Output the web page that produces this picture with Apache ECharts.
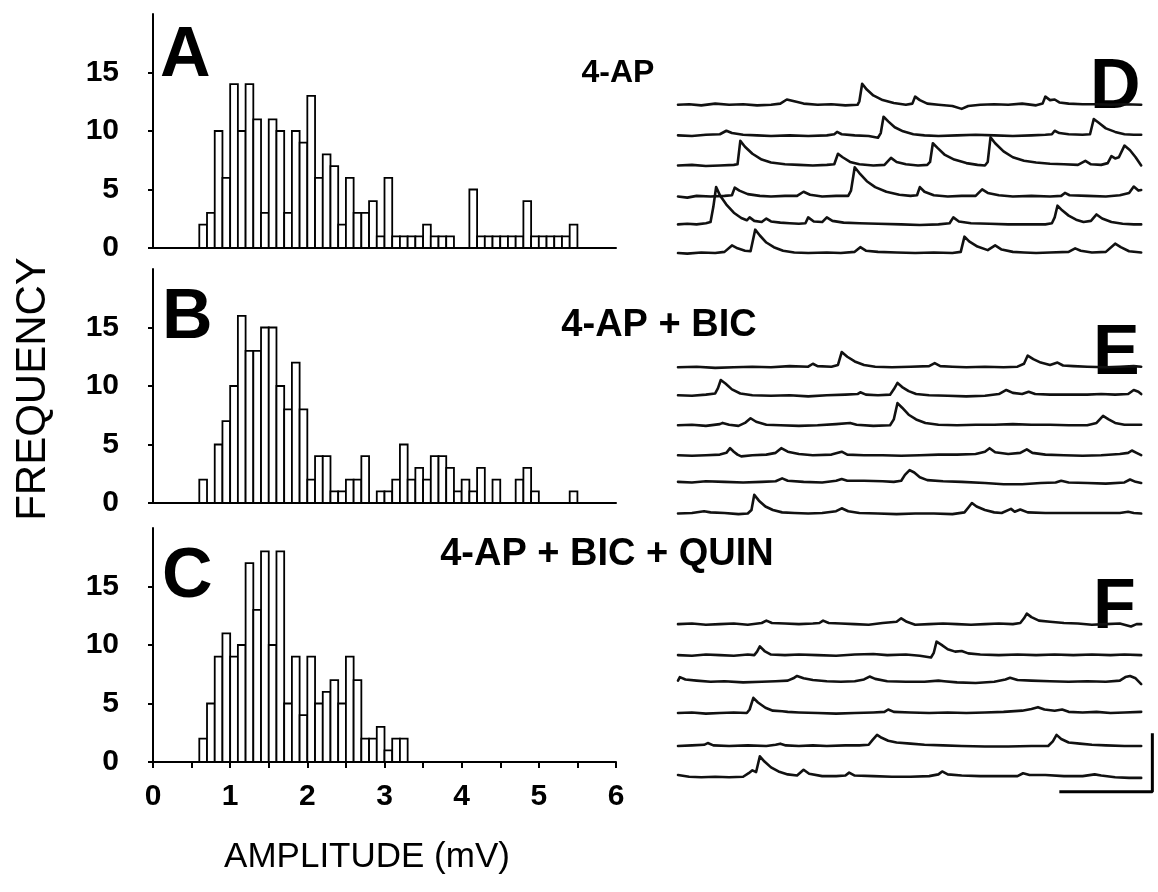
<!DOCTYPE html>
<html><head><meta charset="utf-8">
<script src="https://cdn.jsdelivr.net/npm/echarts@6/dist/echarts.min.js"></script>
<style>html,body{margin:0;padding:0;background:#fff}#c{width:1158px;height:892px}</style>
</head><body><div id="c"></div>
<script>
// ---------- DATA ----------
const amplitudeBins = [0.6,0.7,0.8,0.9,1.0,1.1,1.2,1.3,1.4,1.5,1.6,1.7,1.8,1.9,2.0,2.1,2.2,2.3,2.4,2.5,2.6,2.7,2.8,2.9,3.0,3.1,3.2,3.3,3.4,3.5,3.6,3.7,3.8,3.9,4.0,4.1,4.2,4.3,4.4,4.5,4.6,4.7,4.8,4.9,5.0,5.1,5.2,5.3,5.4,5.5];
const BIN_WIDTH = 0.1;
const countsA = [2,3,10,6,14,10,14,11,3,11,10,3,10,9,13,6,8,7,2,6,3,3,4,1,6,1,1,1,1,2,1,1,1,0,0,5,1,1,1,1,1,1,4,1,1,1,1,1,2,0];
const countsB = [2,0,5,7,10,16,13,13,15,15,10,8,12,8,2,4,4,1,1,2,2,4,0,1,1,2,5,2,3,2,4,4,3,1,2,1,3,0,2,0,0,2,3,1,0,0,0,0,1,0];
const countsC = [2,5,9,11,9,10,17,13,18,10,18,5,9,4,9,5,6,7,5,9,7,2,2,3,1,2,2,0,0,0,0,0,0,0,0,0,0,0,0,0,0,0,0,0,0,0,0,0,0,0];
const freqTicks = [0,5,10,15];
const ampTicks = [0,1,2,3,4,5,6];
const ampMinorTicks = [0,0.5,1,1.5,2,2.5,3,3.5,4,4.5,5,5.5,6];
const histTitles = ['4-AP','4-AP + BIC','4-AP + BIC + QUIN'];
const panelLetters = ['A','B','C','D','E','F'];
const xAxisName = 'AMPLITUDE (mV)';
const yAxisName = 'FREQUENCY';

// traces: [time ms, voltage mV relative to trace baseline]
const tracesD = [
 [[0,0],[12,0.05],[25,-0.05],[40,0.1],[55,0],[70,0.05],[85,-0.05],[100,0],[110,0.1],[117,0.45],[125,0.3],[135,0.1],[150,0],[165,0.05],[180,-0.05],[193,0],[195,0.3],[198,1.8],[203,1.3],[210,0.8],[220,0.4],[232,0.15],[245,0],[252,0.1],[255,0.7],[260,0.4],[268,0.1],[280,0],[295,-0.1],[305,-0.35],[312,-0.1],[325,0],[340,0.05],[355,0],[370,0.1],[385,-0.05],[392,0.1],[395,0.7],[400,0.4],[405,0.45],[410,0.2],[420,0.1],[435,0.05],[450,0.05],[465,0],[480,0.05],[498,0]],
 [[0,0],[15,-0.05],[30,0.05],[45,0.1],[52,0.4],[58,0.2],[70,0.05],[85,0],[100,-0.05],[120,0],[140,-0.05],[160,0],[168,0.1],[171,0.3],[176,0.1],[190,0],[205,-0.05],[215,-0.2],[218,0.2],[221,1.6],[226,1.2],[233,0.7],[242,0.35],[253,0.1],[265,0],[280,-0.05],[300,0],[320,0.05],[340,0],[360,-0.05],[380,0],[395,0.05],[402,0.1],[405,0.4],[410,0.2],[420,0.1],[435,0.05],[443,0.1],[447,1.4],[452,1.1],[460,0.6],[470,0.3],[480,0.1],[490,0.05],[498,0.05]],
 [[0,0],[15,0.05],[30,-0.05],[45,0],[60,0.05],[64,0.1],[67,2.1],[72,1.6],[80,1.0],[90,0.5],[100,0.25],[115,0.1],[130,0.05],[145,0],[160,0.05],[168,0.1],[172,1.0],[177,0.7],[185,0.3],[195,0.1],[210,0],[222,0.05],[229,0.65],[235,0.3],[245,0.1],[258,0],[268,0.05],[271,0.3],[274,1.9],[279,1.5],[287,0.9],[297,0.5],[310,0.2],[322,0.05],[330,0],[333,0.3],[336,2.4],[341,1.9],[350,1.2],[360,0.7],[372,0.4],[385,0.25],[400,0.15],[415,0.1],[430,0.05],[438,0.4],[444,0.1],[455,0.05],[462,0.2],[466,0.8],[470,0.6],[474,0.7],[480,1.7],[486,1.3],[492,0.7],[498,0]],
 [[0,0],[10,-0.1],[20,0.05],[35,0],[50,0.05],[58,0.1],[61,0.75],[66,0.5],[75,0.2],[88,0.05],[100,0],[115,0.05],[128,0.05],[135,0.4],[142,0.15],[155,0],[170,0.05],[183,0.05],[186,0.5],[190,2.5],[195,2.0],[203,1.3],[212,0.8],[224,0.4],[238,0.15],[250,0.05],[257,0.1],[260,0.8],[265,0.4],[275,0.1],[290,0],[305,0.05],[320,0.05],[327,0.6],[333,0.3],[345,0.1],[360,0],[380,0.05],[400,0],[412,0.05],[416,0.3],[421,0.1],[440,0.05],[460,0],[475,0.1],[485,0.3],[490,0.85],[495,0.5],[498,0.55]],
 [[0,0],[10,0.05],[20,0],[30,0.1],[35,0.2],[38,1.5],[41,3.2],[45,2.5],[52,1.7],[60,1.0],[68,0.55],[74,0.35],[77,0.6],[82,0.3],[90,0.2],[95,0.5],[100,0.25],[110,0.15],[120,0.1],[130,0.05],[137,0.1],[140,0.6],[146,0.25],[155,0.2],[160,0.6],[166,0.3],[178,0.15],[195,0.1],[215,0.05],[240,0],[260,-0.05],[280,0],[292,0.1],[296,0.6],[302,0.25],[315,0.1],[335,0.05],[355,0],[375,0],[395,0],[402,0.1],[405,0.6],[408,1.6],[413,1.2],[420,0.75],[428,0.4],[436,0.2],[444,0.3],[450,0.85],[456,0.5],[466,0.2],[478,0.05],[490,0],[498,0]],
 [[0,0],[10,-0.05],[25,0.05],[40,0],[50,0.1],[58,0.65],[64,0.4],[72,0.2],[78,0.15],[80,0.3],[83,2.0],[88,1.5],[95,0.9],[103,0.5],[113,0.2],[125,0.05],[140,0],[160,0.05],[175,0],[190,0.1],[196,0.5],[202,0.2],[215,0.1],[235,0.05],[255,0],[275,0.05],[295,0],[304,0.1],[308,1.4],[313,1.0],[322,0.55],[333,0.25],[341,0.65],[348,0.3],[360,0.1],[372,0.05],[385,0],[400,0.05],[420,0.1],[427,0.4],[433,0.2],[445,0.05],[460,0.1],[470,0.8],[476,0.5],[485,0.15],[498,0.05]]
];
const tracesE = [
 [[0,0],[20,0.05],[40,-0.05],[60,0],[80,0.05],[100,0],[120,0.1],[140,0.05],[145,0.3],[150,0.1],[165,0.05],[172,0.2],[176,1.3],[182,0.9],[190,0.5],[200,0.2],[212,0.05],[230,0],[250,0.05],[270,0.1],[276,0.35],[282,0.1],[295,0.05],[310,0],[330,0.05],[350,0],[365,0.05],[372,0.3],[376,1.0],[382,0.7],[390,0.4],[400,0.2],[408,0.4],[414,0.15],[425,0.1],[440,0.05],[460,0],[475,0.05],[490,0.1],[498,0.05]],
 [[0,0],[15,-0.05],[30,0.05],[40,0.15],[43,0.6],[46,1.3],[51,1.0],[58,0.5],[67,0.15],[80,0],[100,-0.05],[120,0],[140,-0.1],[160,0],[180,0.05],[193,0.1],[196,0.25],[202,0.05],[215,0],[228,0.05],[232,0.5],[236,1.05],[241,0.7],[248,0.35],[256,0.1],[270,0],[290,-0.05],[310,-0.1],[330,-0.05],[345,0.1],[353,0.45],[360,0.2],[370,0.1],[377,0.3],[384,0.1],[400,0.05],[420,0.05],[440,0.05],[455,0.1],[470,0.05],[484,0.1],[490,0.45],[495,0.3],[498,0.1]],
 [[0,0],[15,0.05],[30,-0.05],[45,0.1],[48,0.2],[55,0.05],[65,-0.05],[72,0.2],[78,0.6],[84,0.3],[95,0.05],[110,0],[130,-0.05],[150,0],[170,0.1],[185,0.2],[192,0.05],[210,-0.05],[228,0],[232,0.5],[236,1.9],[241,1.5],[248,0.9],[256,0.5],[266,0.2],[280,0.05],[300,0],[320,0.05],[340,0.05],[360,0.1],[380,0.05],[400,0.05],[420,0],[440,0],[450,0.2],[457,0.8],[463,0.5],[470,0.2],[480,0.05],[498,0.05]],
 [[0,0],[15,-0.05],[30,0],[45,0.05],[52,0.2],[56,0.6],[60,0.3],[64,0.05],[68,-0.1],[80,0],[95,0.05],[105,0.2],[111,0.6],[118,0.3],[130,0.1],[145,0],[165,0.05],[176,0.3],[182,0.05],[200,0],[220,0],[240,-0.05],[260,0],[280,0.05],[300,0.05],[320,0.1],[330,0.3],[335,0.6],[341,0.25],[355,0.1],[368,0.2],[375,0.5],[381,0.2],[395,0.05],[415,0],[435,-0.05],[455,0],[475,0.1],[484,0.2],[488,0.4],[493,0.2],[498,0]],
 [[0,0],[15,-0.05],[30,0.05],[50,0],[70,-0.05],[90,0],[105,0.05],[112,0.3],[118,0.1],[135,0],[155,-0.05],[170,0.1],[176,0.25],[182,0.1],[200,0.1],[220,0.05],[232,0],[240,0.1],[244,0.6],[249,1.0],[254,0.8],[260,0.4],[268,0.15],[285,0.05],[305,0],[330,-0.1],[350,-0.2],[370,-0.2],[390,-0.1],[406,-0.05],[412,0.1],[420,-0.05],[440,-0.1],[460,-0.15],[480,-0.05],[486,0.2],[492,0],[498,-0.1]],
 [[0,0],[15,0.05],[28,0.2],[35,0.1],[50,0.05],[65,-0.05],[75,0],[79,0.3],[82,1.6],[87,1.1],[94,0.6],[102,0.3],[112,0.1],[125,0.05],[140,0],[155,0.05],[170,0.2],[176,0.45],[183,0.2],[195,0.05],[215,0],[235,-0.05],[255,0],[275,0],[295,-0.05],[308,0.1],[312,0.5],[316,0.9],[321,0.6],[330,0.3],[340,0.1],[348,0.05],[358,0.4],[362,0.15],[368,0.35],[376,0.1],[395,0.05],[415,0.05],[435,0.05],[455,0.05],[475,0.05],[484,0.15],[490,0.05],[498,0]]
];
const tracesF = [
 [[0,0],[15,0.05],[30,-0.05],[45,0],[60,0.05],[75,-0.05],[90,0.1],[95,0.3],[101,0.1],[115,0.05],[130,0],[145,0.05],[152,0.1],[156,0.3],[162,0.1],[175,0.05],[190,0],[205,-0.05],[220,0.1],[235,0.2],[240,0.5],[246,0.2],[255,-0.05],[270,0],[285,0.05],[300,0],[315,-0.05],[330,0],[345,0.05],[360,0],[368,0.1],[372,0.5],[375,0.9],[380,0.6],[388,0.3],[400,0.2],[415,0.1],[430,0.05],[445,-0.05],[460,0],[475,0.05],[487,-0.2],[493,0],[498,0]],
 [[0,0],[15,-0.05],[30,0.05],[45,0],[60,-0.05],[75,0.05],[82,0],[85,0.3],[88,0.75],[93,0.35],[100,0.05],[115,0],[130,0.05],[150,0],[170,-0.05],[190,0.05],[210,0.1],[225,0],[245,0.05],[260,-0.05],[272,-0.2],[275,0.2],[278,1.15],[283,0.9],[290,0.5],[298,0.3],[305,0.35],[312,0.15],[325,0.05],[345,0],[365,0.05],[385,0],[405,0.05],[425,0],[445,0.05],[465,0],[480,0.05],[498,0]],
 [[0,0.1],[2,0.4],[8,0.2],[20,0.1],[35,0],[50,0.05],[70,-0.05],[90,0],[105,0.05],[118,0.1],[124,0.3],[128,0.5],[135,0.3],[145,0.15],[160,0.05],[175,0],[190,0.05],[200,0.2],[206,0.45],[212,0.25],[225,0.05],[245,0],[265,0],[280,0.1],[286,0.05],[300,-0.05],[320,-0.1],[340,0],[352,0.2],[357,0.35],[365,0.15],[380,0.1],[400,0.05],[420,0],[440,0.05],[460,0],[475,0.1],[481,0.4],[486,0.5],[492,0.3],[498,-0.2]],
 [[0,0],[15,0.05],[30,-0.05],[45,0],[60,0.05],[74,0],[77,0.3],[81,1.3],[86,0.9],[94,0.45],[102,0.2],[112,0.15],[118,0.1],[130,0.05],[150,0],[170,-0.05],[190,0],[210,0.05],[222,0.1],[226,0.3],[232,0.1],[250,0.05],[270,0],[290,0.05],[310,0],[330,0.05],[350,0.1],[370,0.2],[380,0.35],[387,0.5],[394,0.3],[405,0.2],[413,0.3],[420,0.1],[435,0.05],[450,0.1],[465,0],[480,0.05],[498,0.1]],
 [[0,0],[15,0.05],[28,0.1],[32,0.25],[38,0.05],[55,0],[75,0.05],[95,0],[105,0.1],[110,0.2],[116,0.05],[130,0],[145,0.05],[160,0],[180,0.05],[195,0.05],[205,0.1],[209,0.5],[214,0.95],[219,0.7],[226,0.45],[235,0.3],[250,0.2],[265,0.1],[285,0.05],[305,0],[330,-0.05],[355,-0.05],[380,0],[398,0],[403,0.4],[407,0.95],[412,0.6],[420,0.3],[432,0.2],[445,0.1],[460,0.05],[480,0],[498,0]],
 [[0,0.15],[12,0],[25,-0.05],[40,0],[55,-0.05],[70,0],[76,0.3],[80,0.55],[84,0.4],[88,1.75],[93,1.3],[100,0.8],[108,0.45],[118,0.2],[128,0.1],[135,0.6],[141,0.25],[155,0.05],[170,0.05],[180,0.1],[184,0.35],[190,0.1],[210,0.05],[230,0],[250,0],[270,0.05],[280,0.2],[284,0.45],[290,0.2],[305,0.1],[325,0.05],[345,0.05],[365,0.05],[371,0.3],[378,0.15],[395,0.15],[415,0.05],[435,0.05],[448,0.2],[455,0.1],[470,-0.05],[485,-0.1],[498,-0.1]]
];
// calibration bar: 100 ms, 5 mV
const scaleBarMs = 100, scaleBarMv = 5;

// ---------- LAYOUT ----------
const FONT = '"Liberation Sans", Arial, sans-serif';
const traceOffsets = { // vertical stacking of sweeps (mV units on the trace axis)
  D: [59.46, 56.84, 54.27, 51.62, 49.23, 46.78],
  E: [37.01, 34.62, 32.05, 29.49, 27.21, 24.50],
  F: [15.04, 12.39, 10.11, 7.44, 4.62, 1.99]
};
const scaleBarCorner = [510, 0.7];

const chart = echarts.init(document.getElementById('c'), null, {renderer:'canvas'});

const histGrids = [
  {left:153, width:463, top:14, height:234},
  {left:153, width:463, top:269, height:234},
  {left:153, width:463, top:528, height:234}
];
const grids = histGrids.concat([{left:678, width:479, top:40, height:760}]);

const xAxes = [0,1,2].map(i => ({
  type:'value', gridIndex:i, min:0, max:6,
  axisLine:{show:true, onZero:false, lineStyle:{color:'#000', width:2}},
  axisTick: i===2 ? {show:true, inside:false, length:6, customValues:ampMinorTicks, lineStyle:{color:'#000', width:2}} : {show:false},
  axisLabel: i===2 ? {show:true, customValues:ampTicks, margin:20, color:'#000', fontSize:30, fontWeight:'bold', fontFamily:FONT} : {show:false},
  splitLine:{show:false}
}));
xAxes.push({type:'value', gridIndex:3, min:0, max:515, show:false});

const yAxes = [0,1,2].map(i => ({
  type:'value', gridIndex:i, min:0, max:20,
  axisLine:{show:true, lineStyle:{color:'#000', width:2}},
  axisTick:{show:true, length:5, customValues:freqTicks, lineStyle:{color:'#000', width:2}},
  axisLabel:{show:true, customValues:freqTicks, margin:34, color:'#000', fontSize:30, fontWeight:'bold', fontFamily:FONT},
  splitLine:{show:false}
}));
yAxes.push({type:'value', gridIndex:3, min:0, max:65, show:false});

function renderBin(params, api){
  const x0 = api.value(0), v = api.value(1);
  if (!v) return null;
  const p1 = api.coord([x0, v]);
  const p2 = api.coord([x0 + BIN_WIDTH, 0]);
  return {type:'rect', shape:{x:p1[0], y:p1[1], width:p2[0]-p1[0], height:p2[1]-p1[1]},
          style:{fill:'#fff', stroke:'#000', lineWidth:1.8}};
}

const series = [];
[countsA, countsB, countsC].forEach((counts, i) => {
  series.push({type:'custom', xAxisIndex:i, yAxisIndex:i, renderItem:renderBin,
    data: amplitudeBins.map((b,k)=>[b, counts[k]]), silent:true});
});
const traceSets = {D:tracesD, E:tracesE, F:tracesF};
Object.keys(traceSets).forEach(key => {
  traceSets[key].forEach((tr, k) => {
    const off = traceOffsets[key][k];
    series.push({type:'line', xAxisIndex:3, yAxisIndex:3, showSymbol:false, silent:true,
      data: tr.map(p => [p[0], p[1] + off]),
      lineStyle:{color:'#111', width:2.6, join:'round', cap:'round'}});
  });
});
series.push({type:'line', xAxisIndex:3, yAxisIndex:3, showSymbol:false, silent:true,
  data:[[scaleBarCorner[0]-scaleBarMs, scaleBarCorner[1]],[scaleBarCorner[0], scaleBarCorner[1]],[scaleBarCorner[0], scaleBarCorner[1]+scaleBarMv]],
  lineStyle:{color:'#000', width:3}});

const letterPos = [[160,22],[162,284],[162,543],[1090,54],[1093,320],[1093,574]];
const titlePos = [[618,73],[659,326],[607,555]];
const titleSizes = [32,38,38];
const graphics = [];
panelLetters.forEach((L,i)=>{
  graphics.push({type:'text', x:letterPos[i][0], y:letterPos[i][1],
    style:{text:L, font:'bold 70px '+FONT, fill:'#000', textAlign:'left', textVerticalAlign:'top'}});
});
histTitles.forEach((t,i)=>{
  graphics.push({type:'text', x:titlePos[i][0], y:titlePos[i][1],
    style:{text:t, font:'bold '+titleSizes[i]+'px '+FONT, fill:'#000', textAlign:'center', textVerticalAlign:'middle'}});
});
graphics.push({type:'text', x:33, y:389, rotation:Math.PI/2,
  style:{text:yAxisName, font:'42px '+FONT, fill:'#000', textAlign:'center', textVerticalAlign:'middle'}});
graphics.push({type:'text', x:367, y:857,
  style:{text:xAxisName, font:'35px '+FONT, fill:'#000', textAlign:'center', textVerticalAlign:'middle'}});

chart.setOption({
  animation:false,
  backgroundColor:'#fff',
  grid:grids, xAxis:xAxes, yAxis:yAxes, series:series, graphic:graphics
});
</script>
</body></html>
